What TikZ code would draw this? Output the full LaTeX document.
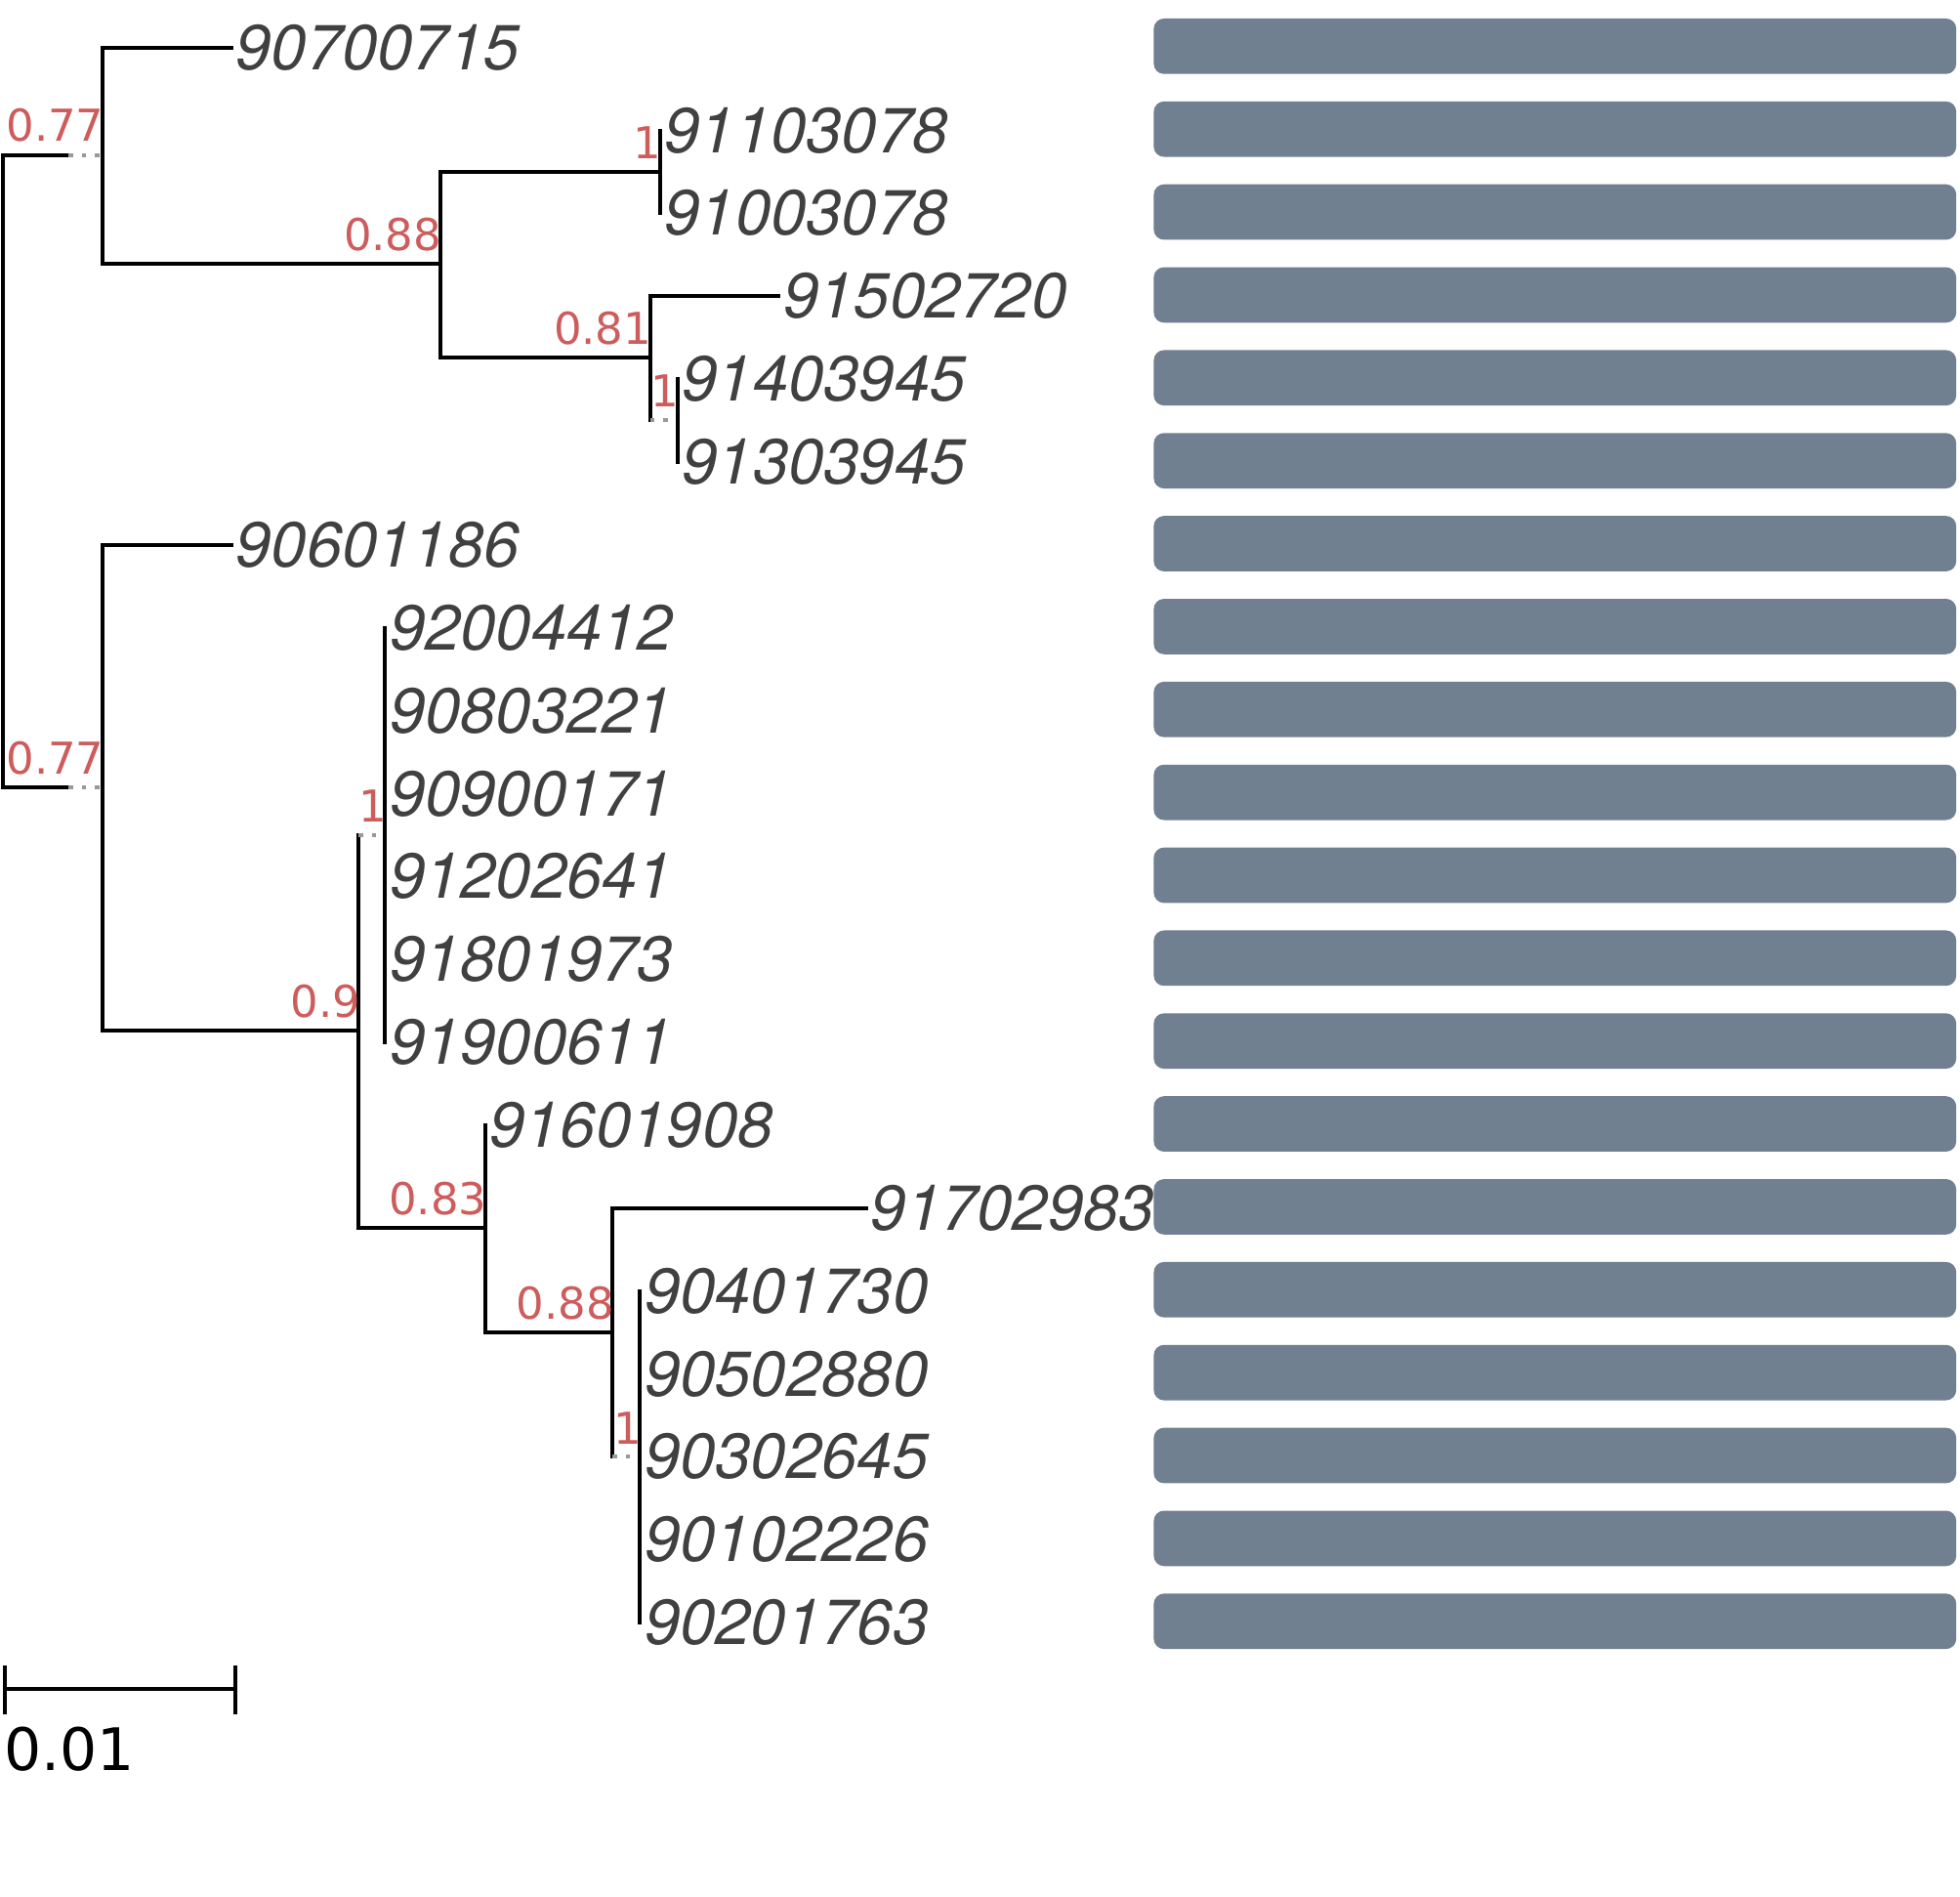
\documentclass[tikz,border=0pt]{standalone}
\usepackage{fontspec}
\newfontfamily\leaffont{TeX Gyre Heros}
\newfontfamily\suppfont{DejaVu Sans}
\definecolor{suppred}{HTML}{CD5C5C}
\definecolor{barslate}{HTML}{708090}
\definecolor{leafgray}{HTML}{404040}
\definecolor{stubgray}{HTML}{999999}

\begin{document}
\begin{tikzpicture}[x=0.03cm,y=-0.03cm,
    branch/.style={line width=2.6pt,line cap=rect},
    stub/.style={line width=2.6pt,stubgray,dash pattern=on 3pt off 6pt},
    leaf/.style={anchor=west,inner xsep=3pt,inner ysep=0pt,text=leafgray,
        font=\leaffont\itshape\fontsize{43.5}{50}\selectfont},
    supp/.style={anchor=south east,inner sep=0pt,text=suppred,
        font=\suppfont\fontsize{30}{34}\selectfont},
    bar/.style={fill=barslate,rounded corners=7pt,minimum width=19.26cm,
        minimum height=1.33cm,inner sep=0pt}]
    \useasboundingbox (0,0) rectangle (1568,1517);

    % leaves and their bars
    \foreach \name/\x [count=\i] in {90700715/185,91103078/528,91003078/528,
        91502720/623,91403945/542,91303945/542,90601186/185,92004412/308,
        90803221/308,90900171/308,91202641/308,91801973/308,91900611/308,
        91601908/388,91702983/693,90401730/512,90502880/512,90302645/512,
        90102226/512,90201763/512}
        \node[leaf] (l\i) at (\x,{38+66.3*(\i-1)}) {\name};
    \foreach \i in {1,...,20}
        \node[bar] (bar\i) at (1244,{37+66.3*(\i-1)}) {};

    % inner nodes
    \coordinate (root) at (2,377);
    \coordinate (rootA) at (55,124);
    \coordinate (rootF) at (55,630);
    \coordinate (A) at (82,124);
    \coordinate (B) at (352,211);
    \coordinate (C) at (528,137.5);
    \coordinate (D) at (520,286);
    \coordinate (E) at (542,336);
    \coordinate (F) at (82,630);
    \coordinate (G) at (287,824.5);
    \coordinate (H) at (308,668);
    \coordinate (I) at (388,982);
    \coordinate (J) at (490,1065.5);
    \coordinate (K) at (512,1165);

    % branches
    \draw[branch] (rootA) -| (root) |- (rootF);
    \draw[stub] (rootA) -- (A);
    \draw[stub] (rootF) -- (F);
    \draw[branch] (l1.west) -| (A) |- (B);
    \draw[branch] (C) -| (B) |- (D);
    \draw[branch] (l2.west) -- (l3.west);
    \draw[branch] (l4.west) -| (D) -- (D |- E);
    \draw[stub] (D |- E) -- (E);
    \draw[branch] (l5.west) -- (l6.west);
    \draw[branch] (l7.west) -| (F) |- (G);
    \draw[branch] (G |- H) |- (I);
    \draw[stub] (G |- H) -- (H);
    \draw[branch] (l8.west) -- (l13.west);
    \draw[branch] (l14.west) -- (I) |- (J);
    \draw[branch] (l15.west) -| (J) -- (J |- K);
    \draw[stub] (J |- K) -- (K);
    \draw[branch] (l16.west) -- (l20.west);

    % support values
    \node[supp] (sA) at ([shift={(1.5,-10)}]A) {0.77};
    \node[supp] (sB) at ([shift={(1.5,-10)}]B) {0.88};
    \node[supp] (sC) at ([shift={(1.5,-10)}]C) {1};
    \node[supp] (sD) at ([shift={(1.5,-10)}]D) {0.81};
    \node[supp] (sE) at ([shift={(1.5,-10)}]E) {1};
    \node[supp] (sF) at ([shift={(1.5,-10)}]F) {0.77};
    \node[supp] (sG) at ([shift={(1.5,-10)}]G) {0.9};
    \node[supp] (sH) at ([shift={(1.5,-10)}]H) {1};
    \node[supp] (sI) at ([shift={(1.5,-10)}]I) {0.83};
    \node[supp] (sJ) at ([shift={(1.5,-10)}]J) {0.88};
    \node[supp] (sK) at ([shift={(1.5,-10)}]K) {1};

    % scale bar
    \coordinate (sbL) at (4,1351);
    \coordinate (sbR) at (188,1351);
    \draw[branch,line cap=butt] (sbL) -- (sbR);
    \draw[branch,line cap=butt] ([shift={(0,-19)}]sbL) -- ([shift={(0,20)}]sbL);
    \draw[branch,line cap=butt] ([shift={(0,-19)}]sbR) -- ([shift={(0,20)}]sbR);
    \node[anchor=north west,inner sep=0pt,font=\suppfont\fontsize{40}{46}\selectfont]
        (sbtext) at ([shift={(-1,30)}]sbL) {0.01};
\end{tikzpicture}
\end{document}
